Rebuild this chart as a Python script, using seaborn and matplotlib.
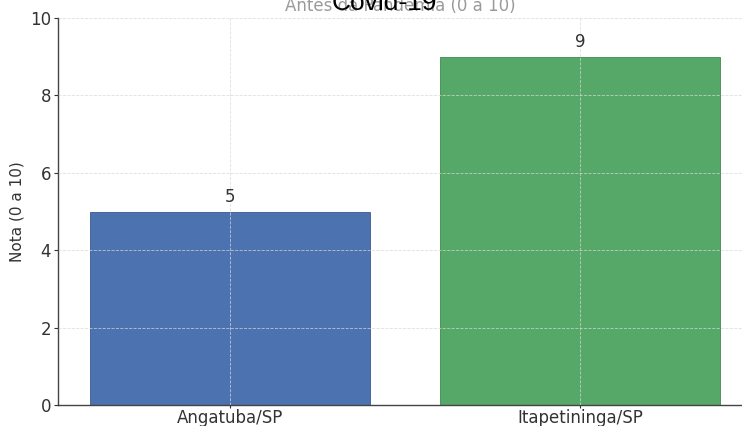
import pandas as pd
import seaborn as sns
import matplotlib.pyplot as plt


cities = ["Angatuba/SP", "Itapetininga/SP"]
scores = [5, 9]
bar_colors = ["#4c72b0", "#55a868"]


def main() -> None:
    sns.set_theme(style="white")
    plt.rcParams["font.family"] = ["DejaVu Sans"]

    df = pd.DataFrame({"Cidade": cities, "Nota": scores})

    fig = plt.figure(figsize=(7.42, 4.26), dpi=100)
    ax = fig.add_axes([58 / 742, 21 / 426, 1 - 58 / 742, 387 / 426])

    sns.barplot(
        data=df, x="Cidade", y="Nota", hue="Cidade", palette=bar_colors,
        width=0.8, saturation=1, legend=False, ax=ax,
    )
    for patch in ax.patches:
        patch.set_edgecolor("#3a5a8c" if patch.get_facecolor()[1] < 0.5 else "#3f8a50")
        patch.set_linewidth(0.6)

    for container in ax.containers:
        ax.bar_label(container, fmt="%d", padding=4, fontsize=12, color="#333333")

    ax.set_ylim(0, 10)
    ax.set_xlim(-0.491, 1.463)
    ax.set_yticks([0, 2, 4, 6, 8, 10])
    ax.set_xlabel("")
    ax.set_ylabel("Nota (0 a 10)", fontsize=11, color="#333333", labelpad=4)
    ax.tick_params(axis="both", labelsize=12, colors="#333333", length=3, width=0.8,
                   direction="out", bottom=True, left=True, pad=2)
    ax.tick_params(axis="x", length=2.5, pad=0.5)
    ax.set_axisbelow(False)
    ax.grid(True, linestyle="--", linewidth=0.6, color="#d8d8d8", alpha=0.8)

    sns.despine(ax=ax, top=True, right=True)
    for side in ["left", "bottom"]:
        ax.spines[side].set_color("#444444")
        ax.spines[side].set_linewidth(1.0)

    ax.set_title("Antes da Pandemia (0 a 10)", fontsize=12, color="#9a9a9a", pad=5)
    fig.text(384 / 742, 416 / 426, "Covid-19", fontsize=19, color="black",
             family=["Liberation Sans"], ha="center", va="baseline")

    fig.savefig("out.png", dpi=100)
    plt.close(fig)


if __name__ == "__main__":
    main()
